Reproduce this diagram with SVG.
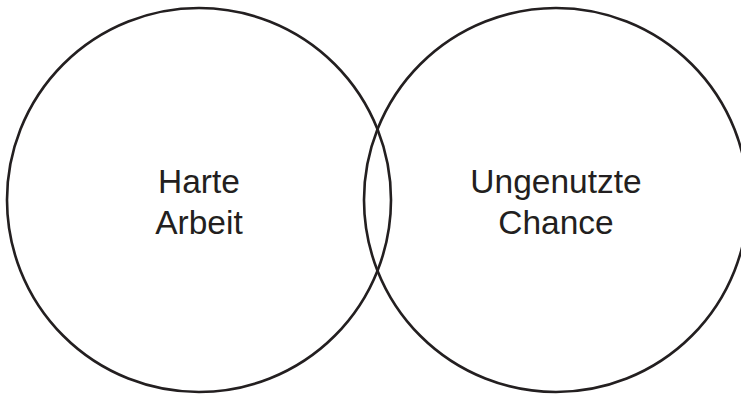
<svg xmlns="http://www.w3.org/2000/svg" width="741" height="394" viewBox="0 0 741 394">
<style>
.c{fill:none;stroke:#231f20;stroke-width:2.6}
.t{font-family:"Liberation Sans",Arial,sans-serif;font-size:33.5px;fill:#231f20;text-anchor:middle}
</style>
<rect width="741" height="394" fill="#fff"/>
<g id="harte-arbeit">
<circle class="c" cx="199" cy="200" r="192"/>
<text class="t" x="199" y="193">Harte</text>
<text class="t" x="199" y="234">Arbeit</text>
</g>
<g id="ungenutzte-chance">
<circle class="c" cx="556" cy="200" r="192"/>
<text class="t" x="556" y="193">Ungenutzte</text>
<text class="t" x="556" y="234">Chance</text>
</g>
<g id="connectors"/>
</svg>
